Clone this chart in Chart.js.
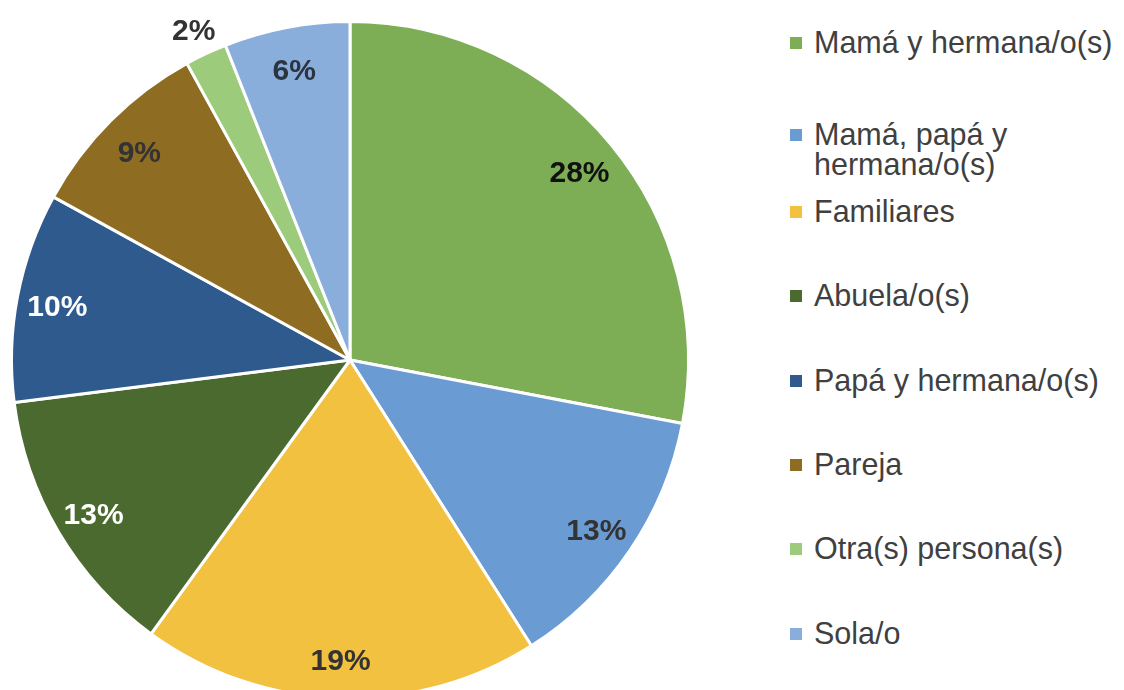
<!DOCTYPE html>
<html>
<head>
<meta charset="utf-8">
<script src="https://cdn.jsdelivr.net/npm/chart.js@4.4.1/dist/chart.umd.min.js"></script>
<style>
  html, body { margin: 0; padding: 0; background: #fff; overflow: hidden; }
  #wrap { position: relative; width: 1124px; height: 690px; }
  #pieBox { position: absolute; left: 0; top: 0; width: 700px; height: 720px; }
  #legend { position: absolute; left: 790px; top: 27px; font-family: "Liberation Sans", Arial, sans-serif; font-size: 30.5px; color: #404040; }
  .item { height: 84.4px; box-sizing: border-box; display: flex; align-items: flex-start; line-height: 30px; }
  .item.multi { padding-top: 8px; }
  .box { width: 12px; height: 12px; margin-top: 10px; margin-right: 12px; flex: none; }
</style>
</head>
<body>
<div id="wrap">
  <div id="pieBox"><canvas id="pie"></canvas></div>
  <div id="legend"></div>
</div>
<script>
const labels = [
    "Mamá y hermana/o(s)",
    "Mamá, papá y hermana/o(s)",
    "Familiares",
    "Abuela/o(s)",
    "Papá y hermana/o(s)",
    "Pareja",
    "Otra(s) persona(s)",
    "Sola/o",
];
const legendLines = [
    ["Mamá y hermana/o(s)"],
    ["Mamá, papá y", "hermana/o(s)"],
    ["Familiares"],
    ["Abuela/o(s)"],
    ["Papá y hermana/o(s)"],
    ["Pareja"],
    ["Otra(s) persona(s)"],
    ["Sola/o"],
];
const values = [28, 13, 19, 13, 10, 9, 2, 6];
const colors = ["#7dae56", "#6a9bd2", "#f2c13f", "#4a6a2f", "#2f5a8e", "#8e6d23", "#9dcb7c", "#8aaedb"];
const labelColors = ["#111111", "#333333", "#333333", "#ffffff", "#ffffff", "#333333", "#333333", "#2b3440"];

// percentage labels, inside the slice except the tiny one
const pctLabels = {
    id: "pctLabels",
    afterDatasetsDraw(chart) {
        const ctx = chart.ctx;
        const meta = chart.getDatasetMeta(0);
        ctx.save();
        ctx.font = "bold 30px 'Liberation Sans', Arial, sans-serif";
        ctx.textAlign = "center";
        ctx.textBaseline = "middle";
        meta.data.forEach((arc, i) => {
            const p = arc.getProps(["x", "y", "startAngle", "endAngle", "outerRadius"], true);
            const mid = (p.startAngle + p.endAngle) / 2;
            const k = values[i] < 4 ? 1.085 : 0.88;
            const r = p.outerRadius * k;
            ctx.fillStyle = labelColors[i];
            ctx.fillText(values[i] + "%", p.x + Math.cos(mid) * r, p.y + Math.sin(mid) * r + 4);
        });
        ctx.restore();
    },
};

const pieData = {
    labels: labels,
    datasets: [
        {
            data: values,
            backgroundColor: colors,
            borderColor: "#ffffff",
            borderWidth: 3,
        },
    ],
};
const pieConfig = {
    type: "pie",
    data: pieData,
    options: {
        responsive: false,
        animation: false,
        layout: {
            padding: { left: 10, right: 10, top: 20, bottom: 20 },
        },
        plugins: {
            legend: { display: false },
            tooltip: { enabled: false },
        },
    },
    plugins: [pctLabels],
};
const canvas = document.getElementById("pie");
canvas.width = 700;
canvas.height = 720;
let pieChart = new Chart(canvas, pieConfig);

// legend built from the same arrays
const legendEl = document.getElementById("legend");
legendLines.forEach((lines, i) => {
    const item = document.createElement("div");
    item.className = lines.length > 1 ? "item multi" : "item";
    const box = document.createElement("span");
    box.className = "box";
    box.style.background = colors[i];
    const txt = document.createElement("span");
    txt.innerHTML = lines.join("<br>");
    item.appendChild(box);
    item.appendChild(txt);
    legendEl.appendChild(item);
});
</script>
</body>
</html>
